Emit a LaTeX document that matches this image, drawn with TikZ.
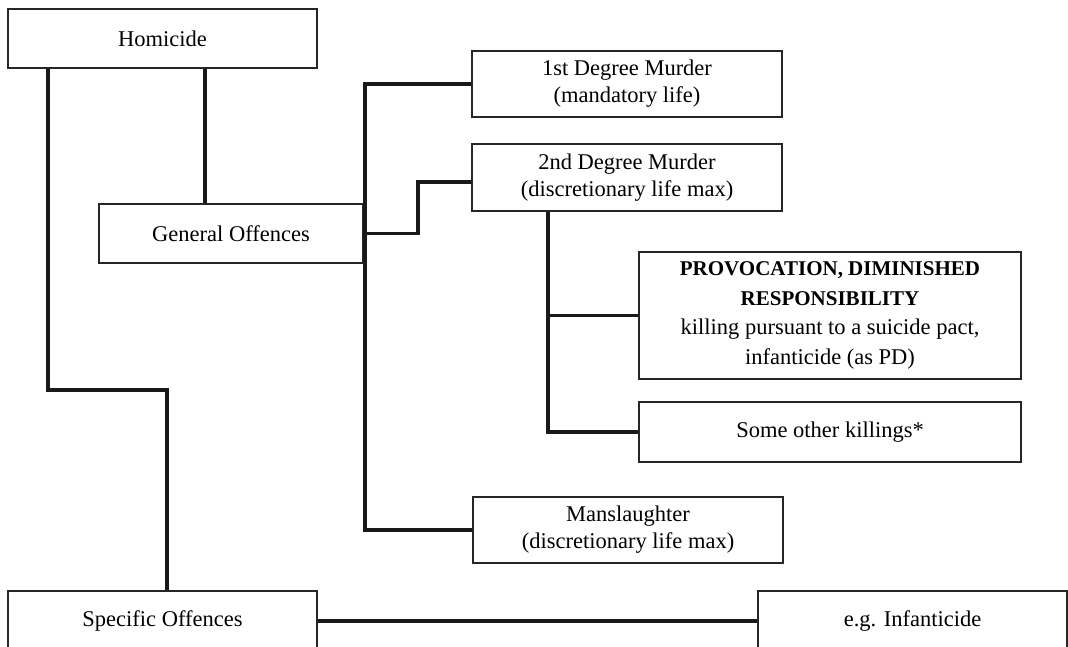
\documentclass[tikz,border=0pt]{standalone}
\usepackage{fontspec}
\setmainfont{Liberation Serif}
\newcommand{\boldline}[1]{{\fontsize{21}{29.5}\selectfont\bfseries #1}}
\begin{document}
\begin{tikzpicture}[x=1pt,y=-1pt,
  box/.style={draw=black!85,line width=1.1pt,inner sep=0pt,align=center,font=\fontsize{22.5}{27}\selectfont},
  link/.style={line width=3.2pt,black!90}]
\useasboundingbox (0,0) rectangle (1068,646);
\node[box,minimum width=309pt,minimum height=59pt] (hom) at (162.5,38.5) {Homicide};
\node[box,minimum width=264pt,minimum height=59pt] (gen) at (231,233.5) {General Offences};
\node[box,minimum width=310pt,minimum height=66pt] (first) at (627,84) {1st Degree Murder\\(mandatory life)};
\node[box,minimum width=310pt,minimum height=67pt] (second) at (627,177.5) {2nd Degree Murder\\(discretionary life max)};
\node[box,minimum width=382pt,minimum height=127pt,font=\fontsize{22.5}{29.5}\selectfont] (prov) at (830,315.5)
  {\boldline{PROVOCATION, DIMINISHED}\\\boldline{RESPONSIBILITY}\\killing pursuant to a suicide pact,\\infanticide (as PD)};
\node[box,minimum width=382pt,minimum height=60pt] (other) at (830,432) {Some other killings*};
\node[box,minimum width=310pt,minimum height=66pt] (mans) at (628,530) {Manslaughter\\(discretionary life max)};
\node[box,minimum width=309pt,minimum height=60pt] (spec) at (162.5,621) {Specific Offences};
\node[box,minimum width=309pt,minimum height=60pt] (infa) at (912.5,621) {e.g. Infanticide};
% connectors
\coordinate (lx) at (48,0);
\coordinate (bend) at (167,390);
\coordinate (mx) at (205,0);
\coordinate (bus) at (365,0);
\coordinate (step2) at (418,0);
\coordinate (sub) at (548,0);
\draw[link] (hom.south -| lx) |- (bend) -- (spec.north -| bend);
\draw[link] (hom.south -| mx) -- (gen.north -| mx);
\draw[link] (first.west) -| (bus |- mans.west) -- (mans.west);
\draw[link] (gen.east -| bus) -| ([yshift=-4.5pt]step2 |- second.west) -- ([yshift=-4.5pt]second.west);
\draw[link] (second.south -| sub) |- (other.west);
\draw[link] (sub |- prov.west) -- (prov.west);
\draw[link] (spec.east) -- (infa.west);
\end{tikzpicture}
\end{document}
